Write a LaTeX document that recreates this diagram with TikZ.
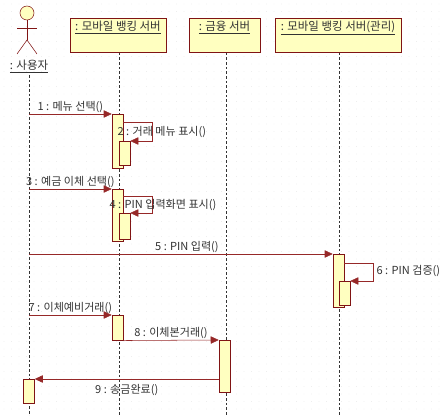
\documentclass[tikz,border=0pt]{standalone}
\usepackage{fontspec}
\setmainfont{Noto Sans CJK KR}
\usetikzlibrary{arrows.meta, positioning}
\definecolor{umlred}{RGB}{128,20,20}
\definecolor{msgred}{RGB}{150,40,40}
\definecolor{umlfill}{RGB}{255,255,192}
\definecolor{txtgray}{RGB}{50,50,50}
\tikzset{
    obj/.style={rectangle, draw=umlred, fill=umlfill, minimum width=72pt, minimum height=25.5pt, inner sep=0pt},
    act/.style={rectangle, draw=umlred, fill=umlfill, minimum width=8.25pt, inner sep=0pt, anchor=north},
    lbl/.style={font=\fontsize{8.3}{9}\selectfont, text=txtgray, inner sep=1pt},
    head/.style={font=\fontsize{8.6}{10}\selectfont, text=txtgray, inner sep=1pt},
    life/.style={black!80, dash pattern=on 2pt off 1.5pt},
    msg/.style={msgred, -{Triangle[length=6pt, width=5.5pt]}}
}

\begin{document}
\begin{tikzpicture}[x=0.75pt, y=-0.75pt]
        \useasboundingbox (0,0) rectangle (442,416);
        % dotted background grid
        \foreach \gx in {4,11.5,...,440}
            \foreach \gy in {4,11.5,...,414}
                \fill[black!10] (\gx,\gy) circle (0.35pt);

        % Actor
        \draw[umlred, fill=umlfill] (27,13) circle (5.25pt);
        \draw[umlred] (27,20) -- (27,40) coordinate (hip);
        \draw[umlred] (17,28) -- (37,28);
        \draw[umlred] (hip) -- (17,54);
        \draw[umlred] (hip) -- (37,54);
        \node (user) [head] at (29,67) {\underline{: 사용자}};

        % Objects
        \node (bank) [obj] at (118,35.5) {};
        \node (bank_label) [head, below=1pt of bank.north] {\underline{: 모바일 뱅킹 서버}};
        \node (fin) [obj, minimum width=53.25pt] at (224.5,35.5) {};
        \node (fin_label) [head, below=1pt of fin.north] {\underline{: 금융 서버}};
        \node (admin) [obj, minimum width=94.5pt] at (338,35.5) {};
        \node (admin_label) [head, below=1pt of admin.north] {\underline{: 모바일 뱅킹 서버(관리)}};

        % Lifelines
        \coordinate (user_end) at (29,416);
        \coordinate (bank_end) at (119,416);
        \coordinate (fin_end) at (226,416);
        \coordinate (admin_end) at (339,416);
        \draw[life] (29,75) -- (user_end);
        \draw[life] (bank_end |- bank.south) -- (bank_end);
        \draw[life] (fin_end |- fin.south) -- (fin_end);
        \draw[life] (admin_end |- admin.south) -- (admin_end);

        % Activations
        \node (A1) [act, minimum height=40.5pt] at (117.5,114) {};
        \node (A1n) [act, minimum height=18pt] at (124.5,141) {};
        \node (A2) [act, minimum height=39pt] at (117.5,189) {};
        \node (A2n) [act, minimum height=19.5pt] at (124.5,213) {};
        \node (A3) [act, minimum height=39.75pt] at (338.5,254) {};
        \node (A3n) [act, minimum height=18pt] at (344.5,281) {};
        \node (A4) [act, minimum height=18.75pt] at (117.5,315) {};
        \node (A5) [act, minimum height=39pt] at (224.5,340) {};
        \node (A6) [act, minimum height=18pt] at (29,379) {};

        % Messages
        \coordinate (u1) at (29,114);
        \coordinate (u3) at (29,189);
        \coordinate (u5) at (29,254);
        \coordinate (u7) at (29,315);
        \draw[msg] (u1) -- (A1.north west) node[lbl, midway, above] {1 : 메뉴 선택()};
        \draw[msg] ([yshift=-6pt]A1.north east) -- ++(29,0) |- (A1n.north east);
        \node (m2) [lbl, anchor=west] at (116,132) {2 : 거래 메뉴 표시()};
        \draw[msg] (u3) -- (A2.north west) node[lbl, midway, above] {3 : 예금 이체 선택()};
        \draw[msg] ([yshift=-5.25pt]A2.north east) -- ++(29,0) |- (A2n.north east);
        \node (m4) [lbl, anchor=west] at (108,205) {4 : PIN 입력화면 표시()};
        \draw[msg] (u5) -- (A3.north west) node[lbl, pos=0.52, above] {5 : PIN 입력()};
        \draw[msg] ([yshift=-6.75pt]A3.north east) -- ++(29,0) |- (A3n.north east);
        \node (m6) [lbl, anchor=west] at (375,271) {6 : PIN 검증()};
        \draw[msg] (u7) -- (A4.north west) node[lbl, midway, above] {7 : 이체예비거래()};
        \draw[msg] (A4.south east) -- (A5.north west) node[lbl, midway, above] {8 : 이체본거래()};
        \draw[msg] (A5.west |- A6.north) -- (A6.north east) node[lbl, midway, below=3pt] {9 : 송금완료()};
    \end{tikzpicture}
\end{document}
